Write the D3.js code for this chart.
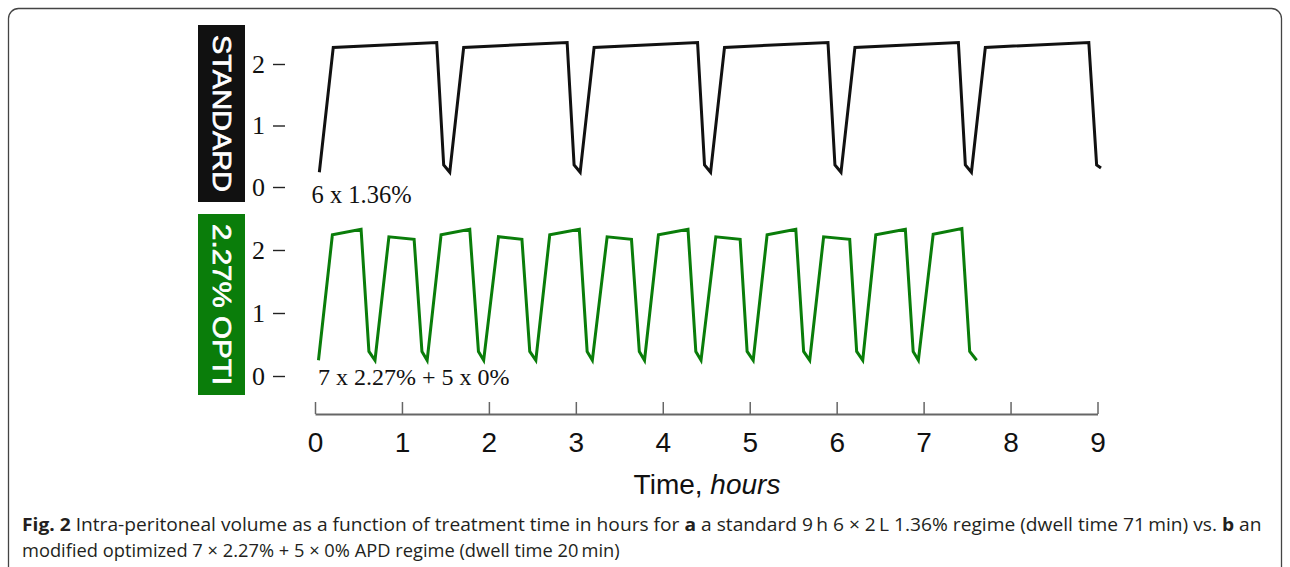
<!DOCTYPE html>
<html>
<head>
<meta charset="utf-8">
<script src="https://cdn.jsdelivr.net/npm/d3@7"></script>
<style>
  html, body { margin: 0; padding: 0; background: #fff; }
  svg { display: block; }
</style>
</head>
<body>
<svg id="chart" width="1290" height="567"></svg>
<script>
// ---------- data ----------
const xTicks = [0, 1, 2, 3, 4, 5, 6, 7, 8, 9];
const yTicks = [0, 1, 2];

// Standard regime: time (h) and intra-peritoneal volume (L)
const stdTime = [0.05, 0.21, 1.40, 1.48,
                 1.55, 1.71, 2.90, 2.98,
                 3.05, 3.21, 4.40, 4.48,
                 4.55, 4.71, 5.90, 5.98,
                 6.05, 6.21, 7.40, 7.48,
                 7.55, 7.71, 8.90, 8.99, 9.04];
const stdVol  = [0.24, 2.27, 2.35, 0.36,
                 0.24, 2.27, 2.35, 0.36,
                 0.24, 2.27, 2.35, 0.36,
                 0.24, 2.27, 2.35, 0.36,
                 0.24, 2.27, 2.35, 0.36,
                 0.24, 2.27, 2.35, 0.36, 0.31];

// Optimized regime 7 x 2.27% + 5 x 0%
const optTime = [0.04, 0.20, 0.53, 0.62,
                 0.69, 0.85, 1.14, 1.23,
                 1.29, 1.45, 1.78, 1.88,
                 1.94, 2.11, 2.38, 2.47,
                 2.54, 2.70, 3.04, 3.13,
                 3.19, 3.36, 3.64, 3.73,
                 3.79, 3.95, 4.29, 4.38,
                 4.44, 4.61, 4.89, 4.97,
                 5.04, 5.20, 5.53, 5.62,
                 5.69, 5.85, 6.15, 6.23,
                 6.30, 6.45, 6.79, 6.88,
                 6.94, 7.11, 7.44, 7.53, 7.61];
const optVol  = [0.25, 2.24, 2.33, 0.39,
                 0.25, 2.21, 2.17, 0.39,
                 0.25, 2.24, 2.33, 0.39,
                 0.25, 2.21, 2.17, 0.39,
                 0.25, 2.24, 2.33, 0.39,
                 0.25, 2.21, 2.17, 0.39,
                 0.25, 2.24, 2.33, 0.39,
                 0.25, 2.21, 2.17, 0.39,
                 0.25, 2.24, 2.33, 0.39,
                 0.25, 2.21, 2.17, 0.39,
                 0.25, 2.24, 2.33, 0.39,
                 0.25, 2.25, 2.34, 0.39, 0.25];

const panelLabels = ["STANDARD", "2.27% OPTI"];
const regimeNotes = ["6 x 1.36%", "7 x 2.27% + 5 x 0%"];
const xTitle = ["Time, ", "hours"];

// ---------- drawing ----------
const svg = d3.select("#chart");
const black = "#111111", green = "#0a7d0a";

// frame
svg.append("rect")
  .attr("x", 8.5).attr("y", 8.5).attr("width", 1273).attr("height", 580)
  .attr("rx", 10).attr("fill", "none").attr("stroke", "#444").attr("stroke-width", 1.3);

const x = d3.scaleLinear().domain([0, 9]).range([315, 1097.5]);
const yTop = d3.scaleLinear().domain([0, 2]).range([187, 64]);
const yBot = d3.scaleLinear().domain([0, 2]).range([376, 250]);

// panel label boxes
const boxes = [
  {y: 25, h: 177, fill: black, label: panelLabels[0]},
  {y: 214, h: 181, fill: green, label: panelLabels[1]}
];
boxes.forEach(b => {
  svg.append("rect").attr("x", 198).attr("y", b.y).attr("width", 47).attr("height", b.h)
    .attr("fill", b.fill);
  svg.append("text")
    .attr("transform", `translate(221.5,${b.y + b.h / 2}) rotate(90)`)
    .attr("text-anchor", "middle").attr("dominant-baseline", "central")
    .attr("font-family", "Liberation Sans, Arial, sans-serif")
    .attr("font-size", 26).attr("fill", "#fff")
    .attr("stroke", "#fff").attr("stroke-width", 0.7)
    .attr("textLength", b.h - 20).attr("lengthAdjust", "spacingAndGlyphs")
    .text(b.label);
});

// y axes
function yAxis(scale) {
  const g = svg.append("g").attr("transform", "translate(285,0)")
    .call(d3.axisLeft(scale).tickValues(yTicks).tickFormat(d3.format("d"))
      .tickSize(12).tickPadding(8));
  g.select(".domain").remove();
  g.selectAll(".tick line").attr("stroke", "#222").attr("stroke-width", 1.4);
  g.selectAll(".tick text").attr("font-family", "Liberation Serif, Times New Roman, serif")
    .attr("font-size", 26).attr("fill", "#111");
}
yAxis(yTop);
yAxis(yBot);

// curves
function curve(times, vols, scale, color) {
  const pts = times.map((t, i) => [t, vols[i]]);
  svg.append("path")
    .attr("d", d3.line().x(d => x(d[0])).y(d => scale(d[1]))(pts))
    .attr("fill", "none").attr("stroke", color).attr("stroke-width", 3)
    .attr("stroke-linejoin", "miter").attr("stroke-miterlimit", 4);
}
curve(stdTime, stdVol, yTop, black);
curve(optTime, optVol, yBot, green);

// regime notes
svg.append("text").attr("x", 311.5).attr("y", 202.5)
  .attr("font-family", "Liberation Serif, Times New Roman, serif")
  .attr("font-size", 24.5).attr("fill", "#111").text(regimeNotes[0]);
svg.append("text").attr("x", 318).attr("y", 385)
  .attr("font-family", "Liberation Serif, Times New Roman, serif")
  .attr("font-size", 24).attr("fill", "#111").text(regimeNotes[1]);

// x axis
const gx = svg.append("g").attr("transform", "translate(0,414)")
  .call(d3.axisBottom(x).tickValues(xTicks).tickFormat(d3.format("d"))
    .tickSizeInner(-12).tickSizeOuter(0).tickPadding(18));
gx.select(".domain").attr("stroke", "#666").attr("stroke-width", 2);
gx.selectAll(".tick line").attr("stroke", "#666").attr("stroke-width", 1.5);
gx.selectAll(".tick text").attr("font-family", "Liberation Sans, Arial, sans-serif")
  .attr("font-size", 28).attr("fill", "#111");

const xt = svg.append("text").attr("x", 707).attr("y", 494).attr("text-anchor", "middle")
  .attr("font-family", "Liberation Sans, Arial, sans-serif").attr("font-size", 28).attr("fill", "#111");
xt.append("tspan").text(xTitle[0]);
xt.append("tspan").attr("font-style", "italic").text(xTitle[1]);

// caption
const capFont = "Open Sans, Noto Sans, sans-serif";
const cap1 = svg.append("text").attr("x", 0).attr("y", 0)
  .attr("font-family", capFont).attr("font-size", 17.5).attr("fill", "#231f20");
[["Fig. 2", true], [" Intra-peritoneal volume as a function of treatment time in hours for ", false],
 ["a", true], [" a standard 9\u2009h 6 \u00d7 2\u2009L 1.36% regime (dwell time 71\u2009min) vs. ", false],
 ["b", true], [" an", false]].forEach(([t, b]) => {
  cap1.append("tspan").attr("font-weight", b ? "bold" : "normal").text(t);
});
const cap2 = svg.append("text").attr("x", 0).attr("y", 0)
  .attr("font-family", capFont).attr("font-size", 17.5).attr("fill", "#231f20")
  .text("modified optimized 7 \u00d7 2.27% + 5 \u00d7 0% APD regime (dwell time 20\u2009min)");
const sx1 = 1240 / cap1.node().getComputedTextLength();
const sx2 = 598 / cap2.node().getComputedTextLength();
cap1.attr("transform", `translate(22,531) scale(${sx1},1)`);
cap2.attr("transform", `translate(22,557) scale(${sx2},1)`);
</script>
</body>
</html>
